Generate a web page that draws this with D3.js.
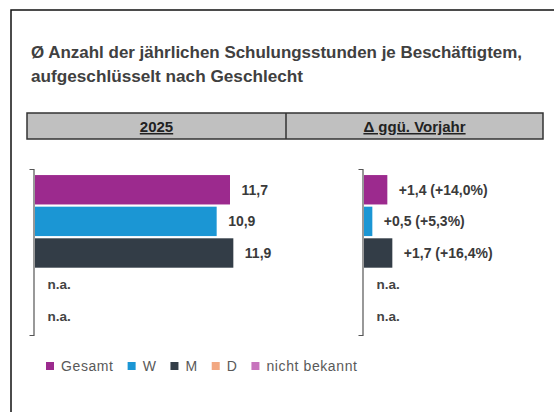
<!DOCTYPE html>
<html><head><meta charset="utf-8">
<script src="https://cdn.jsdelivr.net/npm/d3@7"></script>
<style>
html,body{margin:0;padding:0;background:#fff;}
svg{display:block;font-family:"Liberation Sans",Arial,sans-serif;}
</style></head>
<body><svg id="c" width="554" height="412"></svg>
<script>
const titleLines = ["Ø Anzahl der jährlichen Schulungsstunden je Beschäftigtem,", "aufgeschlüsselt nach Geschlecht"];
const headers = ["2025", "Δ ggü. Vorjahr"];
const categories = ["Gesamt", "W", "M", "D", "nicht bekannt"];
const colors = ["#9c2a8e", "#1b96d4", "#333d47", "#f2a882", "#c774bd"];
const values2025 = [11.7, 10.9, 11.9, null, null];
const deltaAbs = [1.4, 0.5, 1.7, null, null];
const deltaPct = [14.0, 5.3, 16.4, null, null];
const naText = "n.a.";

const svg = d3.select("#c");
const loc = d3.formatLocale({decimal: ",", thousands: ".", grouping: [3], currency: ["", "€"]});
const f1 = loc.format(".1f");
const sgn = v => (v >= 0 ? "+" : "") + f1(v);

// outer frame
svg.append("rect").attr("x", 11).attr("y", 10).attr("width", 700).attr("height", 600)
  .attr("fill", "none").attr("stroke", "#111").attr("stroke-width", 1.5);

// title
const tl = [491, 272];
titleLines.forEach((t, i) => {
  svg.append("text").attr("x", 31).attr("y", 58 + i * 24).text(t)
    .attr("font-size", 16.5).attr("font-weight", "bold").attr("fill", "#404040")
    .attr("textLength", tl[i]).attr("lengthAdjust", "spacingAndGlyphs");
});

// header box
const hx = [27, 286, 543];
svg.append("rect").attr("x", hx[0]).attr("y", 113).attr("width", hx[2] - hx[0]).attr("height", 26)
  .attr("fill", "#c0c0c0").attr("stroke", "#333").attr("stroke-width", 1.5);
svg.append("line").attr("x1", hx[1]).attr("x2", hx[1]).attr("y1", 113).attr("y2", 139)
  .attr("stroke", "#333").attr("stroke-width", 1.5);
headers.forEach((h, i) => {
  svg.append("text").attr("x", (hx[i] + hx[i + 1]) / 2).attr("y", 132).attr("text-anchor", "middle")
    .attr("font-size", 15).attr("font-weight", "bold").attr("fill", "#222")
    .attr("text-decoration", "underline").text(h);
});

// scales
const y = d3.scaleBand().domain(categories).range([170, 336]).paddingInner(0.07).paddingOuter(0.16);
const x = d3.scaleLinear().domain([0, 12]).range([0, 200]);

function panel(x0, axisX, vals, labelFn) {
  const g = svg.append("g");
  const axis = d3.axisLeft(y).tickSize(0).tickFormat("").tickSizeOuter(4);
  const ag = g.append("g").attr("transform", `translate(${axisX},-1)`).call(axis);
  ag.select(".domain").attr("stroke", "#555").attr("stroke-width", 1.2);
  categories.forEach((c, i) => {
    const v = vals[i];
    const cy = y(c) + y.bandwidth() / 2;
    if (v == null) {
      g.append("text").attr("x", axisX + 14).attr("y", cy).attr("dy", "0.35em")
        .attr("font-size", 13.5).attr("font-weight", "bold").attr("fill", "#444").text(naText);
    } else {
      g.append("rect").attr("x", x0).attr("y", y(c)).attr("width", x(v) - x(0))
        .attr("height", y.bandwidth()).attr("fill", colors[i]);
      g.append("text").attr("x", x0 + x(v) + 11.5).attr("y", cy).attr("dy", "0.35em")
        .attr("font-size", 14).attr("font-weight", "bold").attr("fill", "#3a3a3a").text(labelFn(i));
    }
  });
}
panel(35, 33.5, values2025, i => f1(values2025[i]));
panel(364, 362.5, deltaAbs, i => sgn(deltaAbs[i]) + " (" + sgn(deltaPct[i]) + "%)");

// legend
let lx = 46;
const ly = 366;
categories.forEach((c, i) => {
  svg.append("rect").attr("x", lx).attr("y", ly - 4).attr("width", 8).attr("height", 8).attr("fill", colors[i]);
  const t = svg.append("text").attr("x", lx + 15).attr("y", ly).attr("dy", "0.35em")
    .attr("font-size", 14).attr("fill", "#595959").attr("letter-spacing", 0.6).text(c);
  lx = lx + 15 + t.node().getComputedTextLength() + 14;
});
</script></body></html>
